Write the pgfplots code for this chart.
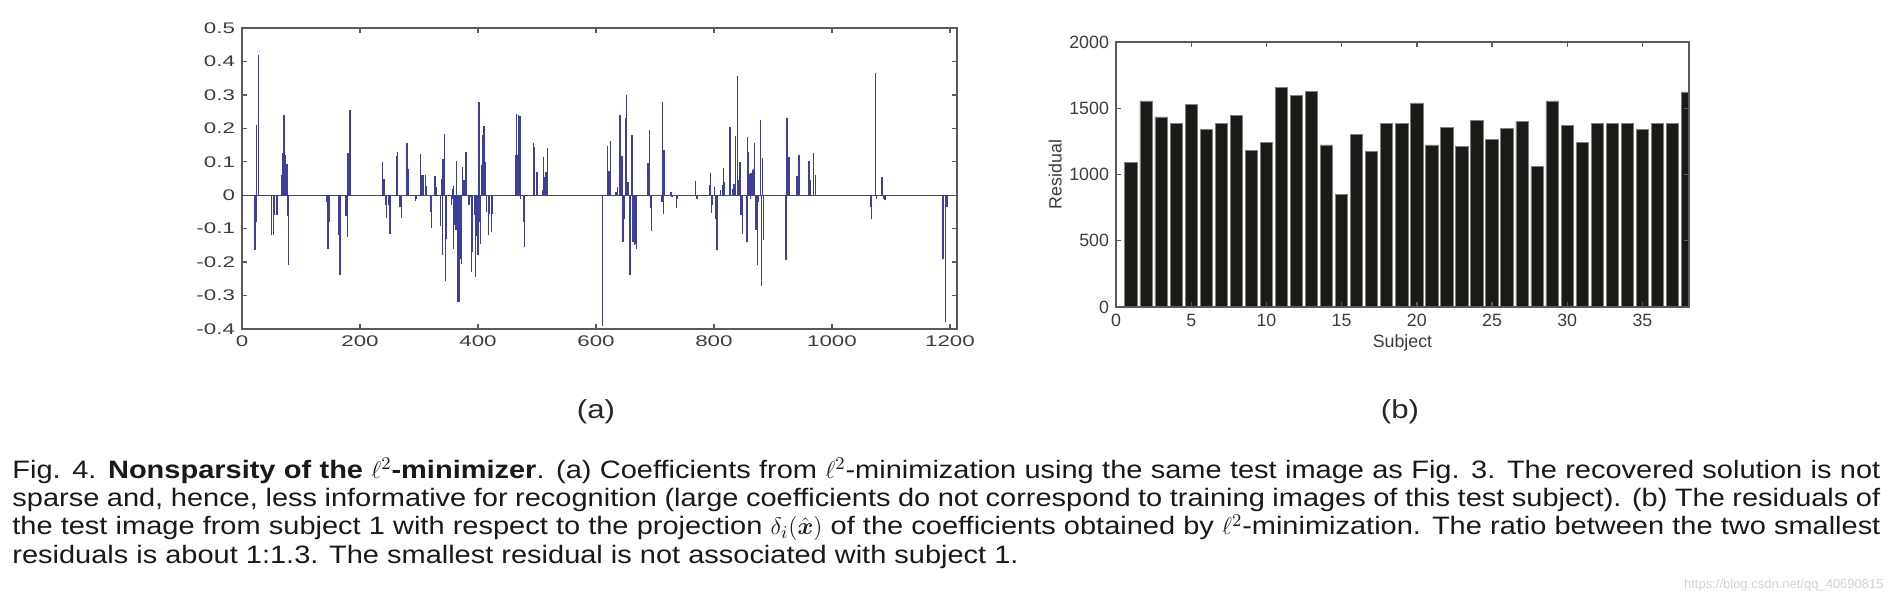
\documentclass[border=0pt]{standalone}
\usepackage{amsmath}
\usepackage{fontspec}
\setmainfont{Liberation Sans}
\newfontfamily\lfont[FakeStretch=1.45]{Liberation Sans}
\newfontfamily\abfont[FakeStretch=1.2]{Liberation Sans}
\newfontfamily\capfont[FakeStretch=1.15]{Liberation Sans}
\newfontfamily\rfont{Liberation Sans}
\usepackage{pgfplots}
\pgfplotsset{compat=1.18}

\definecolor{stemblue}{RGB}{62,62,155}
\definecolor{axgray}{RGB}{90,90,90}
\definecolor{labgray}{RGB}{60,60,60}
\definecolor{barblack}{RGB}{26,27,22}

\begin{document}
\begin{tikzpicture}
\path[use as bounding box] (0,0) rectangle (947pt,-302.5pt);

% (a) l2 coefficients
\begin{axis}[
    at={(121pt,-14pt)}, anchor=north west,
    scale only axis, width=357.5pt, height=150.5pt,
    xmin=0, xmax=1212, ymin=-0.4, ymax=0.5,
    xtick={0,200,...,1200},
    ytick={-0.4,-0.3,-0.2,-0.1,0,0.1,0.2,0.3,0.4,0.5},
    tick align=inside, major tick length=2.5pt,
    axis line style={axgray, line width=0.7pt},
    tick style={axgray, line width=0.7pt},
    ticklabel style={font=\lfont\fontsize{7.7}{8}\selectfont, text=labgray},
    /pgf/number format/assume math mode=true,
    /pgf/number format/1000 sep={},
    yticklabel style={/pgf/number format/.cd, fixed, precision=1},
    scaled ticks=false,
]
\addplot[stemblue, line width=0.6pt] coordinates {(0,0) (1207,0)};
\addplot[ycomb, stemblue, line width=0.7pt] coordinates {
(22,-0.165) (24,-0.08) (25,0.21) (28,0.42)
(50,-0.118) (53,-0.118) (55,-0.058) (58,-0.058) (59,-0.058)
(67,0.06) (69,0.125) (71,0.24) (73,0.12) (74,0.1) (76,0.092) (77,-0.062) (79,-0.21)
(143,-0.02) (145,-0.025) (146,-0.16) (148,-0.08)
(164,-0.12) (166,-0.24)
(176,-0.062) (179,-0.126) (180,0.125) (183,0.255)
(238,0.1) (241,0.048)
(243,-0.03) (245,-0.068) (248,-0.03) (251,-0.116)
(262,0.117) (264,0.13) (268,-0.035) (270,-0.068)
(280,0.155) (282,0.077) (294,-0.018) (296,-0.01)
(303,0.122) (305,0.06) (308,0.06) (311,0.06) (312,0.028)
(320,-0.05) (321,-0.098) (327,0.058) (329,0.025)
(336,-0.093) (338,0.05) (340,-0.18) (341,0.107) (343,0.182) (345,-0.257) (347,-0.13)
(355,-0.03) (356,-0.01) (357,0.02) (358,-0.16) (359,0.028) (361,-0.09) (363,-0.105)
(364,0.102) (366,-0.32) (369,-0.32) (370,-0.19) (372,-0.205) (374,0.085) (376,0.045)
(378,0.045) (380,0.13) (381,0.018)
(385,-0.03) (387,-0.005) (389,-0.23) (390,-0.058) (391,-0.17)
(394,-0.058) (396,-0.245) (398,-0.122) (400,-0.18) (402,0.28) (403,-0.08) (404,-0.145)
(406,0.09) (408,0.18) (410,0.207) (412,0.1) (414,-0.05)
(418,-0.118) (420,-0.055) (423,-0.11) (424,-0.055)
(464,0.12) (465,0.242) (467,0.12) (469,0.24) (471,0.238) (472,-0.01)
(478,-0.08) (479,-0.155)
(494,0.155) (496,0.145) (499,0.07) (500,0.07)
(509,0.015) (511,0.115) (513,0.055) (515,0.07) (518,0.142)
(611,-0.39)
(620,0.148) (622,0.073) (625,0.162) (634,0.01) (637,0.025)
(641,0.24) (644,0.117) (646,-0.14) (648,-0.07) (651,0.23) (652,0.3) (654,0.04)
(658,-0.24) (659,-0.12) (661,0.18) (662,0.09) (663,-0.14) (665,-0.15) (667,-0.145) (669,-0.16)
(688,0.095) (691,0.195) (692,-0.038) (694,-0.108)
(712,-0.02) (713,0.278) (714,-0.055) (715,0.135)
(727,0.01) (729,-0.005) (736,-0.038) (738,-0.01)
(769,0.042) (771,-0.012)
(793,0.032) (794,0.065) (796,-0.052) (797,-0.03) (801,0.025) (803,-0.07) (805,-0.165)
(811,0.015) (814,0.032) (816,0.082) (818,0.04)
(827,0.205) (831,0.02) (834,0.035) (837,0.178) (840,0.355) (841,0.045) (844,0.1) (846,-0.06) (848,-0.115)
(856,-0.14) (857,0.173) (859,0.13) (861,0.062) (862,-0.01) (863,0.065) (865,0.075)
(868,0.077) (869,0.155) (871,-0.105) (874,-0.21) (876,-0.02) (879,0.225) (881,-0.27) (882,0.11) (884,-0.135)
(922,-0.193) (923,-0.095) (924,0.232) (927,0.115)
(941,0.058) (944,0.12) (961,0.103) (963,0.045) (969,0.125) (972,0.06)
(1065,-0.035) (1067,-0.072)
(1074,0.366) (1076,-0.01) (1084,0.025) (1085,0.054) (1088,-0.01) (1090,-0.015)
(1188,-0.19) (1189,-0.03) (1192,-0.38) (1193,-0.035) (1195,-0.035) (1196,-0.01)
};
\end{axis}

% (b) residuals per subject
\begin{axis}[
    at={(558pt,-21pt)}, anchor=north west,
    scale only axis, width=286.5pt, height=132.5pt,
    xmin=0, xmax=38.1, ymin=0, ymax=2000,
    xtick={0,5,...,35}, ytick={0,500,...,2000},
    ybar, bar width=0.82,
    axis on top,
    tick align=inside, major tick length=2.5pt,
    axis line style={axgray, line width=0.7pt},
    tick style={axgray, line width=0.7pt},
    ticklabel style={font=\rfont\fontsize{8.9}{10}\selectfont, text=labgray},
    /pgf/number format/assume math mode=true,
    /pgf/number format/1000 sep={},
    scaled ticks=false,
    xlabel={Subject}, ylabel={Residual},
    label style={font=\rfont\fontsize{8.9}{10}\selectfont, text=labgray},
    xlabel style={at={(axis description cs:0.5,-0.136)}, anchor=center},
    ylabel style={at={(axis description cs:-0.106,0.5)}, anchor=center},
]
\addplot[fill=barblack, draw=gray, line width=0.4pt] coordinates {
(1,1094) (2,1555) (3,1434) (4,1384) (5,1530) (6,1338) (7,1384) (8,1449)
(9,1182) (10,1245) (11,1658) (12,1595) (13,1628) (14,1223) (15,850) (16,1301)
(17,1175) (18,1384) (19,1384) (20,1540) (21,1223) (22,1358) (23,1215) (24,1409)
(25,1263) (26,1346) (27,1401) (28,1062) (29,1555) (30,1369) (31,1240) (32,1384)
(33,1384) (34,1384) (35,1338) (36,1384) (37,1384) (38,1623)
};
\end{axis}

\node[font=\abfont\fontsize{13}{14}\selectfont, text=black!85] at (298pt,-206pt) {(a)};
\node[font=\abfont\fontsize{13}{14}\selectfont, text=black!85] at (700pt,-206pt) {(b)};

\begin{scope}[every node/.style={anchor=base west, inner sep=0pt, font=\capfont\fontsize{12.6}{13}\selectfont, text=black!90}]
\node at (6pt,-239pt) {\makebox[934pt][s]{Fig. 4. \textbf{Nonsparsity of the $\ell^2$-minimizer}. (a) Coefficients from $\ell^2$-minimization using the same test image as Fig. 3. The recovered solution is not}};
\node at (6pt,-253.2pt) {\makebox[934pt][s]{sparse and, hence, less informative for recognition (large coefficients do not correspond to training images of this test subject). (b) The residuals of}};
\node at (6pt,-267.4pt) {\makebox[934pt][s]{the test image from subject 1 with respect to the projection $\delta_i(\hat{\boldsymbol{x}})$ of the coefficients obtained by $\ell^2$-minimization. The ratio between the two smallest}};
\node at (6pt,-281.6pt) {residuals is about 1:1.3. The smallest residual is not associated with subject 1.};
\end{scope}
\node[anchor=base east, inner sep=0pt, font=\fontsize{6.5}{7}\selectfont, text=gray!35] at (942pt,-294pt) {https://blog.csdn.net/qq\_40690815};
\end{tikzpicture}
\end{document}
